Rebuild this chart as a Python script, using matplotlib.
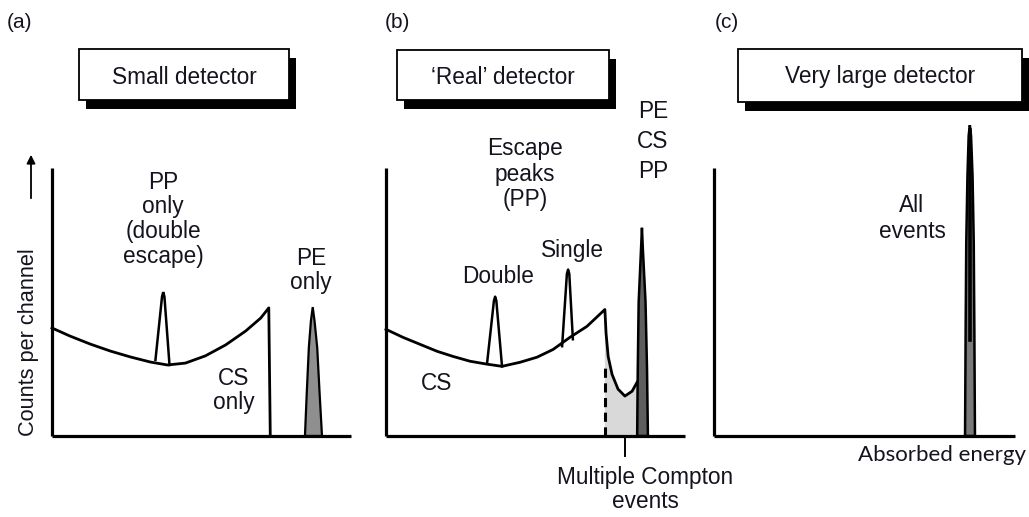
import matplotlib
matplotlib.use("Agg")
import matplotlib.pyplot as plt
from matplotlib.patches import Rectangle, Polygon, FancyArrowPatch

W, H, DPI = 1029, 517, 100
INK = "#14141f"
FONT = "Liberation Sans"

# ---------------- data (energy 0-100 along x, counts 0-100 along y) ----------------
# (a) small detector
a_cs_energy = [0, 6.0, 12.8, 19.5, 26.2, 32.9, 38.6, 44.6, 51.3, 58.1, 64.8, 69.8, 72.5, 73.0]
a_cs_counts = [40.3, 37.3, 34.3, 31.7, 29.5, 27.6, 26.5, 27.2, 29.9, 34.0, 39.2, 44.0, 47.8, 0]
a_dep_energy = [34.6, 36.8, 37.2, 37.6, 39.3]
a_dep_counts = [28.4, 52.0, 53.7, 52.0, 26.5]
a_pe_energy = [84.6, 85.2, 85.9, 86.6, 87.2, 87.8, 88.7, 89.5, 90.3]
a_pe_counts = [0, 16, 33, 43, 48.1, 43, 33, 16, 0]

# (b) 'real' detector
b_cs_energy = [0, 5.7, 11.4, 17.1, 22.4, 28.1, 33.8, 38.8, 44.8, 50.5, 55.9, 61.5, 67.2, 73.2]
b_cs_counts = [39.8, 36.8, 34.2, 31.6, 29.7, 27.9, 26.8, 26.0, 27.5, 29.4, 32.3, 36.8, 40.9, 47.2]
b_tail_energy = [73.2, 73.6, 74.3, 75.6, 77.6, 79.9, 82.3, 84.0]
b_tail_counts = [47.2, 38.3, 29.7, 23.0, 17.5, 14.9, 16.7, 20.1]
b_double_energy = [33.8, 36.1, 36.5, 36.9, 38.8]
b_double_counts = [27.1, 50.5, 52.0, 50.5, 26.0]
b_single_energy = [58.9, 60.5, 60.9, 61.3, 62.5]
b_single_counts = [33.5, 60.5, 62.1, 60.5, 36.1]
b_pe_energy = [84.0, 84.2, 84.5, 85.3, 85.6, 85.9, 86.8, 87.3, 87.6]
b_pe_counts = [0, 25, 50, 70, 77.7, 70, 50, 25, 0]
b_escape_edge = 73.4          # start of the multiple-Compton region
b_escape_edge_top = 27.0
b_multi_tick = 79.9

# (c) very large detector
c_pe_energy = [83.4, 83.6, 83.8, 84.2, 84.6, 85.0, 85.4, 85.9, 86.3, 86.5, 86.7]
c_pe_counts = [0, 40, 72, 97, 112, 116, 112, 97, 72, 40, 0]
c_pe_centre = 85.0
c_pe_dark_from = 36.0         # the narrow upper part of the line prints solid black

panel_titles = ["Small detector", "\u2018Real\u2019 detector", "Very large detector"]
panel_letters = ["(a)", "(b)", "(c)"]

# ---------------- figure ----------------
fig = plt.figure(figsize=(W / DPI, H / DPI), dpi=DPI)
fig.patch.set_facecolor("white")


def fx(x):
    return x / W


def fy(y):
    return 1 - y / H


def label(x, y, s, size=16.3, family=FONT, **kw):
    fig.text(fx(x), fy(y), s, ha="center", va="baseline", fontsize=size,
             family=family, color=INK, **kw)


def lines(x, baselines, words, **kw):
    for b, w in zip(baselines, words):
        label(x, b, w, **kw)


def make_axes(left_px, base_px=436, top_px=168, width_px=299):
    ax = fig.add_axes([fx(left_px), fy(base_px), width_px / W, (base_px - top_px) / H])
    ax.set_xlim(0, 100)
    ax.set_ylim(0, 100)
    ax.axis("off")
    ax.plot([0, 0], [0, 100], color="black", lw=2.3, clip_on=False, solid_capstyle="butt")
    ax.plot([0, 100], [0, 0], color="black", lw=2.3, clip_on=False, solid_capstyle="butt")
    return ax


def title_box(x0, y0, x1, y1, text):
    dx, dy = 7, 9
    fig.patches.append(Rectangle((fx(x0 + dx), fy(y1 + dy)), (x1 - x0) / W, (y1 - y0) / H,
                                 transform=fig.transFigure, facecolor="black",
                                 edgecolor="black", lw=0))
    fig.patches.append(Rectangle((fx(x0), fy(y1)), (x1 - x0) / W, (y1 - y0) / H,
                                 transform=fig.transFigure, facecolor="white",
                                 edgecolor="black", lw=1.3))
    label((x0 + x1) / 2, 83.5, text)


# panel letters and title boxes
for x, s in zip([20, 397, 727], panel_letters):
    label(x, 28, s, size=15)
title_box(79, 49, 289, 100, panel_titles[0])
title_box(397, 50, 609, 100, panel_titles[1])
title_box(738, 49, 1022, 102, panel_titles[2])

# ---- (a) ----
ax_a = make_axes(52)
ax_a.plot(a_cs_energy, a_cs_counts, color="black", lw=2.0, clip_on=False,
          solid_joinstyle="round")
ax_a.plot(a_dep_energy, a_dep_counts, color="black", lw=1.8, clip_on=False,
          solid_joinstyle="miter")
ax_a.add_patch(Polygon(list(zip(a_pe_energy, a_pe_counts)), closed=True,
                       facecolor="#8f8f8f", edgecolor="black", lw=1.6, clip_on=False))

# y-axis description with arrow
fig.text(fx(29), fy(342), "Counts per channel", rotation=90, ha="center", va="center",
         fontsize=15.7, family=FONT, color=INK)
fig.add_artist(FancyArrowPatch(
    (fx(31), fy(201)), (fx(31), fy(152)), transform=fig.transFigure,
    arrowstyle="-|>,head_length=5,head_width=2.5", color="black", lw=1.3))

lines(163, [189, 213.5, 238, 262.5], ["PP", "only", "(double", "escape)"])
lines(311, [265, 289], ["PE", "only"])
lines(234, [385, 409], ["CS", "only"])

# ---- (b) ----
ax_b = make_axes(386)
ax_b.fill_between(b_tail_energy, b_tail_counts, 0, facecolor="#d9d9d9", edgecolor="none")
ax_b.plot(b_cs_energy + b_tail_energy[1:], b_cs_counts + b_tail_counts[1:], color="black",
          lw=2.0, clip_on=False, solid_joinstyle="round")
ax_b.plot(b_double_energy, b_double_counts, color="black", lw=1.8)
ax_b.plot(b_single_energy, b_single_counts, color="black", lw=1.8)
ax_b.add_patch(Polygon(list(zip(b_pe_energy, b_pe_counts)), closed=True,
                       facecolor="#5e5e5e", edgecolor="black", lw=1.8, clip_on=False))
ax_b.plot([b_escape_edge, b_escape_edge], [0, b_escape_edge_top], color="black",
          lw=2.2, dashes=(3, 1.8))
ax_b.plot([b_multi_tick, b_multi_tick], [0, -7.4], color="black", lw=1.4, clip_on=False)

lines(525, [155.5, 181, 206], ["Escape", "peaks", "(PP)"])
lines(653, [118, 148, 177.5], ["PE", "CS", "PP"])
label(498, 283, "Double")
label(572, 257, "Single")
label(437, 390, "CS")
lines(645, [484, 508], ["Multiple Compton", "events"])

# ---- (c) ----
ax_c = make_axes(714, width_px=301)
ax_c.add_patch(Polygon(list(zip(c_pe_energy, c_pe_counts)), closed=True,
                       facecolor="#7a7a7a", edgecolor="black", lw=1.8, clip_on=False))
ax_c.plot([c_pe_centre, c_pe_centre], [c_pe_dark_from, max(c_pe_counts) - 2],
          color="black", lw=2.6, clip_on=False)
lines(912, [212, 237.5], ["All", "events"])
label(942, 461, "Absorbed energy", size=16, family="Lato")

fig.savefig("out.png", dpi=DPI, facecolor="white")
